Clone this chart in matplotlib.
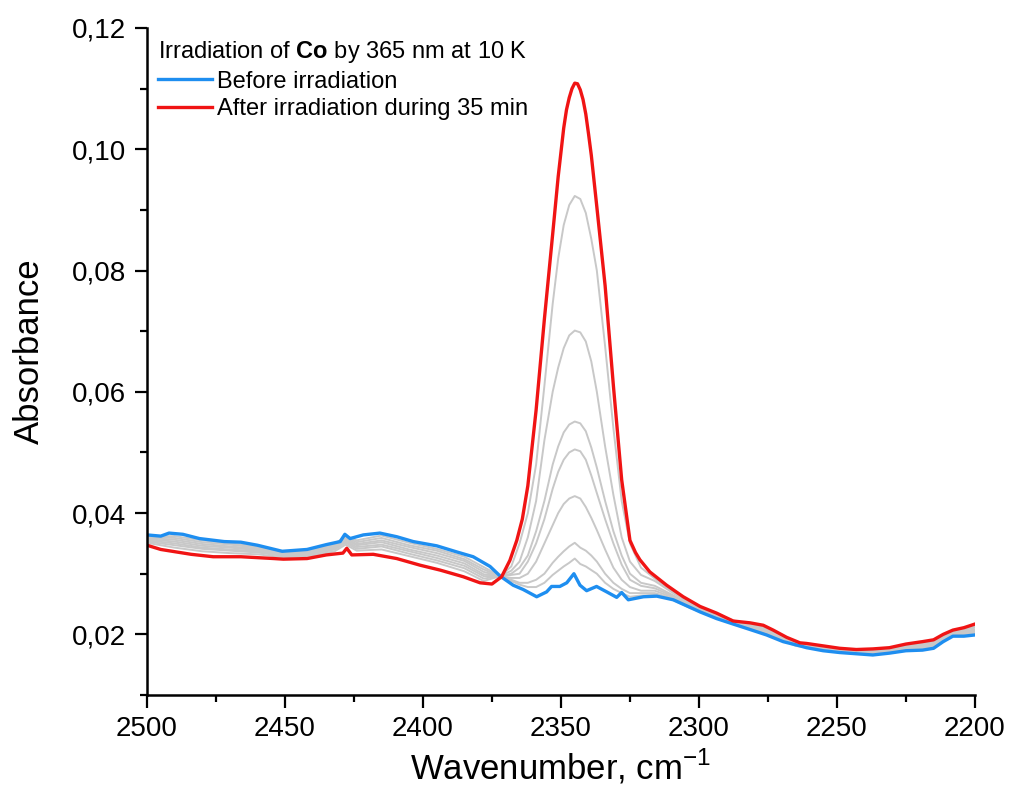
import matplotlib
matplotlib.use("Agg")
import matplotlib.pyplot as plt
from matplotlib.ticker import MultipleLocator, FuncFormatter

plt.rcParams['font.family'] = ['Liberation Sans', 'DejaVu Sans']
plt.rcParams['mathtext.fontset'] = 'custom'
plt.rcParams['mathtext.rm'] = 'Liberation Sans'
plt.rcParams['mathtext.bf'] = 'Liberation Sans:bold'

# before irradiation (blue)
blue_wn = [2500, 2495, 2492, 2487, 2481, 2472, 2466, 2460, 2451, 2442, 2435, 2430,
           2428.3, 2426.4, 2421.6, 2415.6, 2409.5, 2403.5, 2395, 2387.8, 2381.8,
           2375.7, 2372, 2367.3, 2363.7, 2358.8, 2355.2, 2353.4, 2350.4, 2347.9,
           2345.3, 2343.1, 2340.7, 2337.1, 2333.4, 2329.8, 2328.0, 2325.6, 2320.1,
           2315.3, 2309.3, 2302, 2299.6, 2293.6, 2287.6, 2281.5, 2275.5, 2269.5,
           2263.4, 2261, 2255, 2249, 2243, 2237, 2231, 2225, 2219, 2215, 2211.5,
           2208, 2204, 2200]
blue_abs = [0.0364, 0.0362, 0.0367, 0.0365, 0.0358, 0.0353, 0.0352, 0.0347, 0.0337,
            0.0340, 0.0348, 0.0353, 0.0365, 0.0358, 0.0364, 0.0367, 0.0361, 0.0353,
            0.0346, 0.0336, 0.0328, 0.0312, 0.0296, 0.0281, 0.0274, 0.0262, 0.0270,
            0.0279, 0.0279, 0.0285, 0.0300, 0.0281, 0.0272, 0.0279, 0.0270, 0.0261,
            0.0269, 0.0257, 0.0262, 0.0263, 0.0257, 0.0242, 0.0237, 0.0226, 0.0217,
            0.0208, 0.0199, 0.0188, 0.0181, 0.0178, 0.0173, 0.0170, 0.0168, 0.0166,
            0.0169, 0.0173, 0.0174, 0.0177, 0.0188, 0.0197, 0.0197, 0.0199]

# after 35 min irradiation (red)
red_wn = [2500, 2495, 2484, 2476, 2466, 2454, 2450.6, 2442, 2435, 2429, 2427.6,
          2425.8, 2418, 2409.5, 2401, 2393.8, 2385.4, 2379.3, 2375, 2371.5, 2368.5,
          2366, 2364, 2362, 2359, 2356, 2353, 2351, 2350, 2349, 2348, 2347, 2346,
          2345, 2344, 2343, 2342, 2341, 2340, 2339, 2337, 2334, 2331, 2328, 2325,
          2323, 2321.4, 2317.8, 2311.7, 2305.7, 2299.6, 2293.6, 2287.6, 2281.5,
          2276.7, 2273.1, 2268.2, 2263.4, 2261, 2255, 2249, 2243, 2237, 2231, 2225,
          2219, 2215, 2211.5, 2208, 2204, 2200]
red_abs = [0.0347, 0.0340, 0.0332, 0.0328, 0.0328, 0.0325, 0.0324, 0.0325, 0.0331,
           0.0334, 0.0342, 0.0331, 0.0332, 0.0325, 0.0314, 0.0306, 0.0295, 0.0285,
           0.0283, 0.0295, 0.0322, 0.0355, 0.0390, 0.0445, 0.0570, 0.0720, 0.0860,
           0.0955, 0.0995, 0.1035, 0.1065, 0.1085, 0.1100, 0.1109, 0.1108, 0.1098,
           0.1082, 0.1058, 0.1025, 0.0990, 0.0905, 0.0775, 0.0610, 0.0455, 0.0355,
           0.0335, 0.0323, 0.0303, 0.0281, 0.0262, 0.0246, 0.0235, 0.0222, 0.0219,
           0.0215, 0.0207, 0.0195, 0.0186, 0.0185, 0.0181, 0.0177, 0.0175, 0.0176,
           0.0178, 0.0184, 0.0188, 0.0191, 0.0200, 0.0207, 0.0211, 0.0217]

# intermediate spectra (gray), shared wavenumber grid
gray_wn = [2500, 2490, 2480, 2470, 2460, 2450, 2440, 2432, 2428, 2424, 2415, 2405,
           2395, 2385,
           2378, 2372, 2368, 2365, 2362, 2359, 2356, 2353, 2351, 2349, 2347, 2345,
           2343, 2341, 2339, 2337, 2334, 2331, 2328, 2325, 2321, 2316, 2310, 2303,
           2295, 2285, 2275, 2265, 2255, 2245, 2235, 2225, 2215, 2208, 2200]
gray1 = [0.0351, 0.0343, 0.0337, 0.0334, 0.0332, 0.0327, 0.0330, 0.0337, 0.0348, 0.0338,
         0.0340, 0.0329, 0.0318, 0.0304,
         0.0288, 0.0296, 0.0312, 0.0350, 0.0400, 0.0480, 0.0610, 0.0745, 0.0820, 0.0875,
         0.0908, 0.0923, 0.0918, 0.0895, 0.0852, 0.0800, 0.0675, 0.0540, 0.0420, 0.0350,
         0.0310, 0.0292, 0.0272, 0.0252,
         0.0235, 0.0219, 0.0210, 0.0186, 0.0179, 0.0175, 0.0174, 0.0182, 0.0188, 0.0205, 0.0213]
gray2 = [0.0353, 0.0347, 0.0341, 0.0338, 0.0335, 0.0329, 0.0332, 0.0340, 0.0351, 0.0341,
         0.0345, 0.0333, 0.0322, 0.0309,
         0.0292, 0.0296, 0.0305, 0.0320, 0.0360, 0.0420, 0.0520, 0.0600, 0.0640, 0.0672,
         0.0693, 0.0701, 0.0698, 0.0683, 0.0650, 0.0600, 0.0510, 0.0430, 0.0360, 0.0320,
         0.0298, 0.0288, 0.0270, 0.0250,
         0.0234, 0.0218, 0.0208, 0.0185, 0.0178, 0.0174, 0.0173, 0.0180, 0.0186, 0.0204, 0.0211]
gray3 = [0.0355, 0.0350, 0.0343, 0.0340, 0.0337, 0.0330, 0.0333, 0.0342, 0.0353, 0.0344,
         0.0348, 0.0337, 0.0326, 0.0313,
         0.0296, 0.0296, 0.0300, 0.0310, 0.0330, 0.0370, 0.0420, 0.0480, 0.0510, 0.0533,
         0.0546, 0.0551, 0.0548, 0.0535, 0.0508, 0.0475, 0.0420, 0.0370, 0.0330, 0.0300,
         0.0285, 0.0280, 0.0266, 0.0248,
         0.0233, 0.0217, 0.0206, 0.0184, 0.0177, 0.0173, 0.0172, 0.0179, 0.0184, 0.0202, 0.0208]
gray4 = [0.0357, 0.0353, 0.0346, 0.0343, 0.0339, 0.0332, 0.0335, 0.0343, 0.0355, 0.0347,
         0.0352, 0.0340, 0.0330, 0.0317,
         0.0299, 0.0296, 0.0298, 0.0300, 0.0320, 0.0350, 0.0390, 0.0440, 0.0468, 0.0488,
         0.0500, 0.0505, 0.0502, 0.0488, 0.0462, 0.0433, 0.0390, 0.0350, 0.0315, 0.0290,
         0.0280, 0.0276, 0.0264, 0.0246,
         0.0232, 0.0217, 0.0205, 0.0184, 0.0177, 0.0172, 0.0171, 0.0178, 0.0183, 0.0202, 0.0207]
gray5 = [0.0359, 0.0356, 0.0349, 0.0345, 0.0341, 0.0333, 0.0336, 0.0345, 0.0358, 0.0349,
         0.0355, 0.0344, 0.0334, 0.0321,
         0.0303, 0.0296, 0.0293, 0.0293, 0.0300, 0.0320, 0.0350, 0.0380, 0.0400, 0.0415,
         0.0424, 0.0428, 0.0424, 0.0410, 0.0392, 0.0372, 0.0340, 0.0310, 0.0290, 0.0278,
         0.0272, 0.0272, 0.0262, 0.0245,
         0.0231, 0.0216, 0.0203, 0.0183, 0.0176, 0.0171, 0.0170, 0.0177, 0.0182, 0.0201, 0.0205]
gray6 = [0.0360, 0.0359, 0.0352, 0.0348, 0.0343, 0.0334, 0.0338, 0.0347, 0.0360, 0.0352,
         0.0359, 0.0347, 0.0338, 0.0324,
         0.0307, 0.0296, 0.0290, 0.0285, 0.0285, 0.0290, 0.0300, 0.0318, 0.0328, 0.0337,
         0.0345, 0.0351, 0.0343, 0.0338, 0.0330, 0.0320, 0.0300, 0.0285, 0.0275, 0.0268,
         0.0268, 0.0268, 0.0260, 0.0244,
         0.0230, 0.0215, 0.0202, 0.0182, 0.0175, 0.0171, 0.0169, 0.0176, 0.0181, 0.0200, 0.0203]
gray7 = [0.0362, 0.0362, 0.0355, 0.0350, 0.0345, 0.0335, 0.0339, 0.0349, 0.0362, 0.0355,
         0.0363, 0.0351, 0.0341, 0.0328,
         0.0311, 0.0296, 0.0288, 0.0282, 0.0278, 0.0278, 0.0285, 0.0298, 0.0305, 0.0312,
         0.0318, 0.0325, 0.0316, 0.0312, 0.0306, 0.0300, 0.0285, 0.0275, 0.0268, 0.0262,
         0.0264, 0.0265, 0.0258, 0.0243,
         0.0229, 0.0214, 0.0200, 0.0181, 0.0174, 0.0170, 0.0168, 0.0175, 0.0179, 0.0199, 0.0202]
gray_curves = [gray1, gray2, gray3, gray4, gray5, gray6, gray7]

fig = plt.figure(figsize=(10.1, 7.95), dpi=100)
ax = fig.add_axes([0.1455, 0.1258, 0.8198, 0.839])

for g in gray_curves:
    ax.plot(gray_wn, g, color='#c8c8c8', lw=1.4, solid_joinstyle='round')
ax.plot(blue_wn, blue_abs, color='#1e8ef0', lw=2.4, label='Before irradiation')
ax.plot(red_wn, red_abs, color='#f01414', lw=2.4, label='After irradiation during 35 min',
        solid_joinstyle='round')

ax.set_xlim(2500, 2200)
ax.set_ylim(0.01, 0.12)
ax.xaxis.set_major_locator(MultipleLocator(50))
ax.xaxis.set_minor_locator(MultipleLocator(25))
ax.yaxis.set_major_locator(MultipleLocator(0.02))
ax.yaxis.set_minor_locator(MultipleLocator(0.01))
ax.yaxis.set_major_formatter(FuncFormatter(lambda v, p: f"{v:.2f}".replace('.', ',')))

for s in ['top', 'right']:
    ax.spines[s].set_visible(False)
for s in ['left', 'bottom']:
    ax.spines[s].set_linewidth(1.8)
ax.tick_params(which='major', direction='out', length=9, width=1.6, labelsize=20, pad=6)
ax.tick_params(which='minor', direction='out', length=5, width=1.6)

ax.set_xlabel('Wavenumber, cm$^{-1}$', fontsize=25, labelpad=4)
ax.set_ylabel('Absorbance', fontsize=25)
ax.yaxis.set_label_coords(-0.122, 0.515)

leg = ax.legend(loc='upper left', bbox_to_anchor=(0.0, 1.0), frameon=False,
                title=r'Irradiation of $\mathbf{Co}$ by 365 nm at 10 K',
                fontsize=17, title_fontsize=17, handlelength=2.3, handletextpad=0.2,
                labelspacing=0.25, borderaxespad=0.05, alignment='left')

plt.savefig('out.png')
